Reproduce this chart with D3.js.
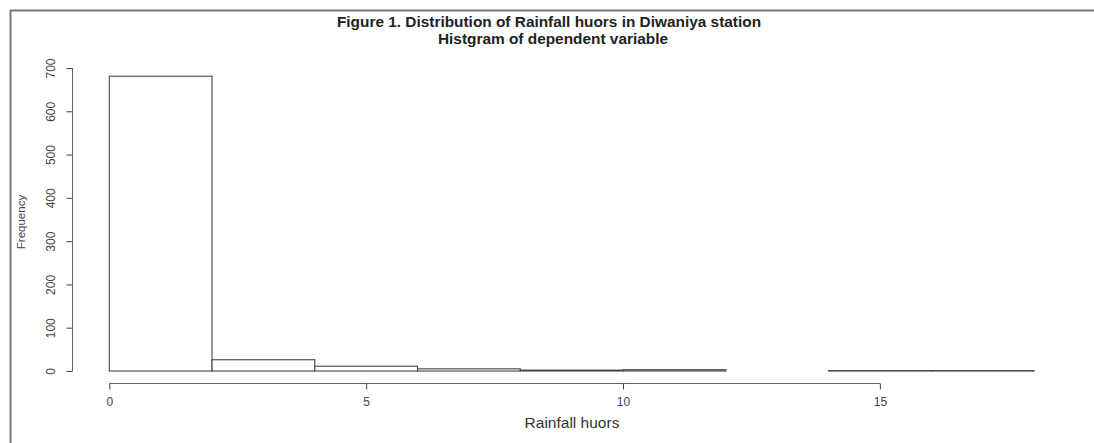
<!DOCTYPE html>
<html>
<head>
<meta charset="utf-8">
<script src="https://cdn.jsdelivr.net/npm/d3@7"></script>
<style>
body { margin:0; background:#fff; overflow:hidden; }
text { font-family: Arial, "Liberation Sans", sans-serif; }
</style>
</head>
<body>
<div id="chart"></div>
<script>
// histogram bins (width 2) and counts
var binStarts = [0, 2, 4, 6, 8, 10, 12, 14, 16];
var binWidth = 2;
var counts = [681, 26, 11, 5, 2, 3, 0, 1, 1];
var xTicks = [0, 5, 10, 15];
var yTicks = [0, 100, 200, 300, 400, 500, 600, 700];

var W = 1094, H = 443;

var svg = d3.select("#chart").append("svg")
	.attr("width", W)
	.attr("height", H)
	.style("display", "block");

// frame (only top and left visible)
svg.append("path")
	.attr("d", "M10.5," + (H + 5) + "V10.5H" + (W + 5))
	.attr("fill", "none")
	.attr("stroke", "#777")
	.attr("stroke-width", 2);

var x = d3.scaleLinear().domain([0, 18]).range([109.3, 1034]);
var y = d3.scaleLinear().domain([0, 700]).range([371, 68]);

// bars
svg.append("g").selectAll("rect")
	.data(counts)
	.enter().append("rect")
	.attr("x", function(d, i) { return x(binStarts[i]); })
	.attr("y", function(d) { return y(d); })
	.attr("width", function(d, i) { return x(binStarts[i] + binWidth) - x(binStarts[i]); })
	.attr("height", function(d) { return y(0) - y(d); })
	.attr("fill", "#fff")
	.attr("stroke", "#444")
	.attr("stroke-width", 1.1);

// x axis
var xAxis = svg.append("g")
	.attr("transform", "translate(0,383.5)")
	.call(d3.axisBottom(x).tickValues(xTicks).tickSize(6).tickSizeOuter(0).tickFormat(d3.format("d")));
xAxis.select(".domain").attr("stroke", "#666").attr("d", "M" + x(0) + ",0H" + x(15));
xAxis.selectAll(".tick line").attr("stroke", "#444");
xAxis.selectAll(".tick text")
	.attr("y", 14)
	.attr("fill", "#444")
	.style("font-size", "12px")
	.style("font-family", "Arial, 'Liberation Sans', sans-serif");

// y axis
var yAxis = svg.append("g")
	.attr("transform", "translate(72.5,0)")
	.call(d3.axisLeft(y).tickValues(yTicks).tickSize(6).tickSizeOuter(0));
yAxis.select(".domain").attr("stroke", "#666").attr("d", "M0," + y(0) + "V" + y(700));
yAxis.selectAll(".tick line").attr("stroke", "#444");
yAxis.selectAll(".tick text")
	.attr("x", 0).attr("y", 0).attr("dy", 0)
	.attr("transform", "translate(-18,0) rotate(-90)")
	.attr("text-anchor", "middle")
	.attr("fill", "#444")
	.style("font-size", "12px")
	.style("font-family", "Arial, 'Liberation Sans', sans-serif");

// titles
svg.append("text")
	.attr("x", 549).attr("y", 27)
	.attr("text-anchor", "middle")
	.style("font-size", "15.4px")
	.style("font-weight", "bold")
	.attr("fill", "#222")
	.text("Figure 1. Distribution of Rainfall huors in Diwaniya station");
svg.append("text")
	.attr("x", 553).attr("y", 44)
	.attr("text-anchor", "middle")
	.style("font-size", "15.4px")
	.style("font-weight", "bold")
	.attr("fill", "#222")
	.text("Histgram of dependent variable");

svg.append("text")
	.attr("x", 572).attr("y", 428)
	.attr("text-anchor", "middle")
	.style("font-size", "15.5px")
	.attr("fill", "#333")
	.text("Rainfall huors");

svg.append("text")
	.attr("transform", "translate(25,222) rotate(-90)")
	.attr("text-anchor", "middle")
	.style("font-size", "11.5px")
	.attr("fill", "#444")
	.text("Frequency");
</script>
</body>
</html>
